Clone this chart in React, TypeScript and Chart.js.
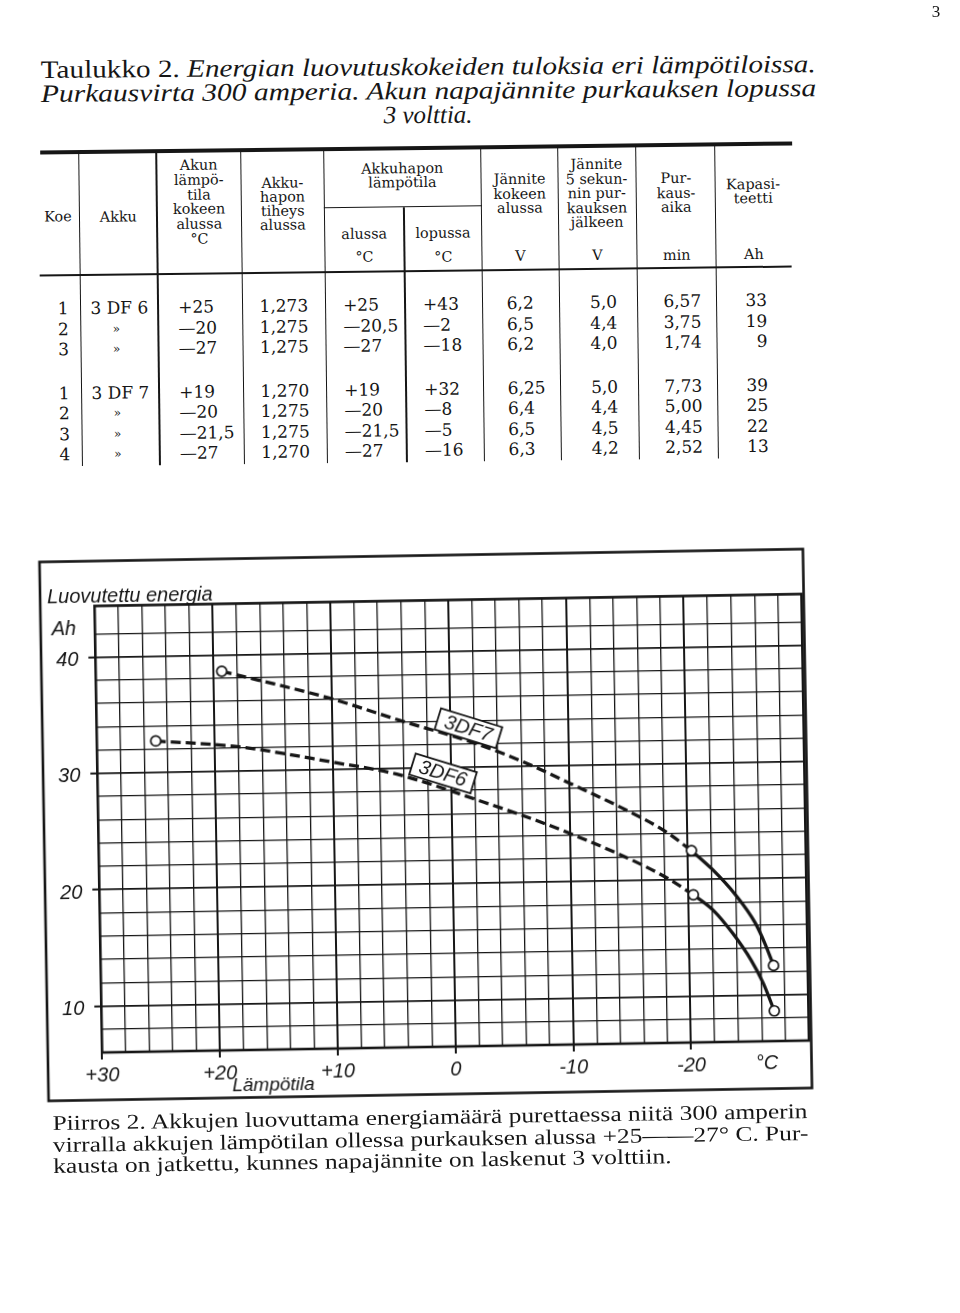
import React, { useEffect, useLayoutEffect, useRef } from 'react';
import { Chart, registerables } from 'chart.js';

Chart.register(...registerables);

/* ---------------- chart data (read from "Piirros 2") ---------------- */
const tempTickValues = [30, 20, 10, 0, -10, -20];
const tempTickLabels = ['+30', '+20', '+10', '0', '-10', '-20'];
const ahTickValues = [10, 20, 30, 40];
const ahTickLabels = ['10', '20', '30', '40'];

// 3DF7: dashed part, solid part, measured points (circles)
const df7DashedTemp = [19.3, 10.1, 4.5, -2.2, -6.1, -10.2, -14.4, -18.1, -20.3];
const df7DashedAh = [38.6, 36.1, 34.2, 32.0, 30.4, 28.4, 26.3, 24.2, 22.5];
const df7SolidTemp = [-20.3, -22.0, -24.0, -25.6, -26.4, -27.1];
const df7SolidAh = [22.5, 20.9, 18.6, 16.2, 14.4, 12.5];
const df7PointTemp = [19.3, -20.3, -27.1];
const df7PointAh = [38.6, 22.5, 12.5];

// 3DF6
const df6DashedTemp = [25.0, 18.1, 9.9, 4.6, -2.1, -9.9, -18.0, -20.4];
const df6DashedAh = [32.7, 32.1, 30.6, 29.5, 27.2, 24.2, 20.3, 18.7];
const df6SolidTemp = [-20.4, -22.1, -23.7, -25.2, -26.2, -27.1];
const df6SolidAh = [18.7, 17.3, 15.3, 13.0, 11.0, 8.6];
const df6PointTemp = [25.0, -20.4, -27.1];
const df6PointAh = [32.7, 18.7, 8.6];

// curve tags
const tagNames = ['3DF7', '3DF6'];
const tagTemp = [-1.55, 0.67];
const tagAh = [33.34, 29.5];

const yAxisTitle = 'Luovutettu energia';
const yAxisUnit = 'Ah';
const xAxisTitle = 'Lämpötila';
const xAxisUnit = '°C';
const xUnitTemp = -26.4;
const xTitleTemp = 15.5;

/* ---------------- table data (Taulukko 2) ---------------- */
const koe = ['1', '2', '3', '1', '2', '3', '4'];
const akku = ['3 DF 6', '»', '»', '3 DF 7', '»', '»', '»'];
const akunLampotila = ['+25', '—20', '—27', '+19', '—20', '—21,5', '—27'];
const tiheys = ['1,273', '1,275', '1,275', '1,270', '1,275', '1,275', '1,270'];
const hapAlussa = ['+25', '—20,5', '—27', '+19', '—20', '—21,5', '—27'];
const hapLopussa = ['+43', '—2', '—18', '+32', '—8', '—5', '—16'];
const janniteAlussa = ['6,2', '6,5', '6,2', '6,25', '6,4', '6,5', '6,3'];
const jannite5s = ['5,0', '4,4', '4,0', '5,0', '4,4', '4,5', '4,2'];
const purkausaika = ['6,57', '3,75', '1,74', '7,73', '5,00', '4,45', '2,52'];
const kapasiteetti = ['33', '19', '9', '39', '25', '22', '13'];

const INK = '#161616';
const SERIF = '"Liberation Serif", "Times New Roman", serif';
const TSERIF = '"DejaVu Serif", serif';
const SANS = '"Liberation Sans", Arial, sans-serif';

/* ---------------- helpers ---------------- */
function Txt({ x, y, children, align = 'center', size = 14, family = TSERIF, italic = false, h = 20 }: any) {
  const w = 300;
  const left = align === 'center' ? x - w / 2 : align === 'right' ? x - w : x;
  return (
    <div
      style={{
        position: 'absolute', left, top: y - h / 2, width: w, height: h, lineHeight: `${h}px`,
        textAlign: align, fontSize: size, fontFamily: family, fontStyle: italic ? 'italic' : 'normal',
        whiteSpace: 'nowrap', color: INK,
      }}
    >
      {children}
    </div>
  );
}

function Lines({ x, y0, lh, lines, size = 14 }: any) {
  return (
    <>
      {lines.map((t: string, i: number) => (
        <Txt key={i} x={x} y={y0 + i * lh} size={size}>{t}</Txt>
      ))}
    </>
  );
}

function HLine({ x1, x2, y, t }: any) {
  return <div style={{ position: 'absolute', left: x1, top: y - t / 2, width: x2 - x1, height: t, background: INK }} />;
}
function VLine({ x, y1, y2, t }: any) {
  return <div style={{ position: 'absolute', left: x - t / 2, top: y1, width: t, height: y2 - y1, background: INK }} />;
}

function FitLine({ left, baseline, width, size, children, italic = false }: any) {
  const ref = useRef<HTMLSpanElement>(null);
  useLayoutEffect(() => {
    const el = ref.current;
    if (!el) return;
    const fit = () => {
      const w = el.offsetWidth;
      if (w) el.style.transform = `scaleX(${width / w})`;
    };
    fit();
    const fonts = (document as any).fonts;
    if (fonts && fonts.ready) fonts.ready.then(fit);
  }, [width]);
  return (
    <div
      style={{
        position: 'absolute', left, top: baseline - 0.8375 * size, height: size, lineHeight: `${size}px`,
        fontSize: size, fontFamily: SERIF, whiteSpace: 'nowrap', color: INK, fontStyle: italic ? 'italic' : 'normal',
      }}
    >
      <span ref={ref} style={{ display: 'inline-block', transformOrigin: '0 50%' }}>{children}</span>
    </div>
  );
}

function Rotated({ deg, ox, oy, children }: any) {
  return (
    <div
      style={{
        position: 'absolute', left: 0, top: 0, width: 960, height: 1313,
        transform: `rotate(${deg}deg)`, transformOrigin: `${ox}px ${oy}px`,
      }}
    >
      {children}
    </div>
  );
}

/* ---------------- title ---------------- */
function TitleBlock() {
  const size = 25;
  return (
    <Rotated deg={-0.43} ox={428} oy={98}>
      <FitLine left={41} baseline={75} width={775} size={size}>
        <span>Taulukko 2. </span>
        <i>Energian luovutuskokeiden tuloksia eri lämpötiloissa.</i>
      </FitLine>
      <FitLine left={41} baseline={99} width={775} size={size} italic>
        Purkausvirta 300 amperia. Akun napajännite purkauksen lopussa
      </FitLine>
      <div
        style={{
          position: 'absolute', left: 278, width: 300, top: 123 - 0.8375 * size, height: size,
          lineHeight: `${size}px`, fontSize: size, fontFamily: SERIF, fontStyle: 'italic',
          textAlign: 'center', color: INK, whiteSpace: 'nowrap',
        }}
      >
        3 volttia.
      </div>
    </Rotated>
  );
}

/* ---------------- table ---------------- */
function TableBlock() {
  const cols = [80.5, 158, 242.3, 325.2, 482.5, 559.6, 637.8, 716.8];
  const rowY = [304, 324.5, 345, 389, 409.3, 429.6, 449.9];
  const body = 17;
  const hs = 14.4;
  return (
    <Rotated deg={-0.69} ox={420} oy={300}>
      <HLine x1={42} x2={794} y={148} t={3.5} />
      <HLine x1={40} x2={792} y={271} t={2} />
      <HLine x1={325} x2={482.5} y={206.5} t={1.4} />
      {cols.map((x, i) => (
        <VLine key={i} x={x} y1={148} y2={462} t={1.3} />
      ))}
      <VLine x={405} y1={206.5} y2={462} t={1.3} />

      <Txt x={59} y={212} size={hs}>Koe</Txt>
      <Txt x={119.3} y={213} size={hs}>Akku</Txt>
      <Lines x={200.2} y0={162} lh={14.8} size={hs} lines={['Akun', 'lämpö-', 'tila', 'kokeen', 'alussa', '°C']} />
      <Lines x={283.8} y0={181} lh={14} size={hs} lines={['Akku-', 'hapon', 'tiheys', 'alussa']} />
      <Lines x={403.8} y0={167.5} lh={14} size={hs} lines={['Akkuhapon', 'lämpötila']} />
      <Txt x={365} y={232.6} size={hs}>alussa</Txt>
      <Txt x={365} y={256} size={hs}>°C</Txt>
      <Txt x={443.8} y={233.3} size={hs}>lopussa</Txt>
      <Txt x={443.8} y={256.5} size={hs}>°C</Txt>
      <Lines x={521} y0={180} lh={14.5} size={hs} lines={['Jännite', 'kokeen', 'alussa']} />
      <Lines x={598} y0={166} lh={14.6} size={hs} lines={['Jännite', '5 sekun-', 'nin pur-', 'kauksen', 'jälkeen']} />
      <Lines x={677.3} y0={181} lh={14.5} size={hs} lines={['Pur-', 'kaus-', 'aika']} />
      <Lines x={754.4} y0={187.5} lh={14.5} size={hs} lines={['Kapasi-', 'teetti']} />
      <Txt x={521} y={257} size={hs}>V</Txt>
      <Txt x={598} y={257} size={hs}>V</Txt>
      <Txt x={677.3} y={257.5} size={hs}>min</Txt>
      <Txt x={754.4} y={258} size={hs}>Ah</Txt>

      {rowY.map((y, i) => (
        <React.Fragment key={i}>
          <Txt x={63} y={y} size={body}>{koe[i]}</Txt>
          {akku[i] === '»' ? (
            <Txt x={116} y={y} size={12}>{akku[i]}</Txt>
          ) : (
            <Txt x={119.3} y={y} size={body}>{akku[i]}</Txt>
          )}
          <Txt x={178} y={y} size={body} align="left">{akunLampotila[i]}</Txt>
          <Txt x={283.8} y={y} size={body}>{tiheys[i]}</Txt>
          <Txt x={343} y={y} size={body} align="left">{hapAlussa[i]}</Txt>
          <Txt x={423} y={y} size={body} align="left">{hapLopussa[i]}</Txt>
          <Txt x={506.7} y={y} size={body} align="left">{janniteAlussa[i]}</Txt>
          <Txt x={590} y={y} size={body} align="left">{jannite5s[i]}</Txt>
          <Txt x={663.3} y={y} size={body} align="left">{purkausaika[i]}</Txt>
          <Txt x={767} y={y} size={body} align="right">{kapasiteetti[i]}</Txt>
        </React.Fragment>
      ))}
    </Rotated>
  );
}

/* ---------------- chart ---------------- */
function ChartBlock() {
  const ref = useRef<HTMLCanvasElement>(null);
  useEffect(() => {
    const canvas = ref.current;
    if (!canvas) return;
    const pts = (xs: number[], ys: number[]) => xs.map((x, i) => ({ x, y: ys[i] }));
    const curve = (xs: number[], ys: number[], dashed: boolean) => ({
      data: pts(xs, ys),
      borderColor: INK,
      borderWidth: 3.3,
      borderDash: dashed ? [10, 5] : [],
      pointRadius: 0,
      cubicInterpolationMode: 'monotone',
      fill: false,
      order: 2,
    });
    const marks = (xs: number[], ys: number[]) => ({
      data: pts(xs, ys),
      showLine: false,
      pointRadius: 5,
      pointBackgroundColor: '#ffffff',
      pointBorderColor: INK,
      pointBorderWidth: 1.7,
      order: 1,
    });
    const isLabelled = (v: number) => tempTickValues.includes(v);
    const decor = {
      id: 'decor',
      beforeDraw(chart: any) {
        const c = chart.ctx;
        c.save();
        c.fillStyle = '#ffffff';
        c.fillRect(0, 0, chart.width, chart.height);
        c.restore();
      },
      beforeDatasetsDraw(chart: any) {
        const c = chart.ctx;
        const a = chart.chartArea;
        c.save();
        c.strokeStyle = INK;
        c.lineWidth = 2.6;
        c.strokeRect(a.left, a.top, a.right - a.left, a.bottom - a.top);
        c.strokeRect(4, 5.5, 763.5, 539);
        c.fillStyle = INK;
        c.font = `italic 20px ${SANS}`;
        c.textAlign = 'left';
        c.textBaseline = 'middle';
        c.fillText(yAxisTitle, 11, 41);
        c.fillText(yAxisUnit, 15, 73);
        const xs = chart.scales.x;
        c.textAlign = 'center';
        c.fillText(xAxisUnit, xs.getPixelForValue(xUnitTemp), 519);
        c.font = `italic 19px ${SANS}`;
        c.fillText(xAxisTitle, xs.getPixelForValue(xTitleTemp), 533);
        c.restore();
      },
      afterDatasetsDraw(chart: any) {
        const c = chart.ctx;
        const xs = chart.scales.x;
        const ys = chart.scales.y;
        tagNames.forEach((name, i) => {
          const px = xs.getPixelForValue(tagTemp[i]);
          const py = ys.getPixelForValue(tagAh[i]);
          c.save();
          c.translate(px, py);
          c.rotate((18 * Math.PI) / 180);
          c.fillStyle = '#ffffff';
          c.fillRect(-32, -11, 64, 22);
          c.strokeStyle = INK;
          c.lineWidth = 1.8;
          c.strokeRect(-32, -11, 64, 22);
          c.fillStyle = INK;
          c.font = `italic 20px ${SANS}`;
          c.textAlign = 'center';
          c.textBaseline = 'middle';
          c.fillText(name, 0, 1);
          c.restore();
        });
      },
    };
    const tickFont = { family: SANS, size: 20, style: 'italic' as const };
    const chart = new Chart(canvas, {
      type: 'line',
      data: {
        datasets: [
          marks(df7PointTemp, df7PointAh),
          marks(df6PointTemp, df6PointAh),
          curve(df7DashedTemp, df7DashedAh, true),
          curve(df7SolidTemp, df7SolidAh, false),
          curve(df6DashedTemp, df6DashedAh, true),
          curve(df6SolidTemp, df6SolidAh, false),
        ] as any,
      },
      options: {
        animation: false,
        responsive: false,
        maintainAspectRatio: false,
        layout: { padding: { left: 0, right: 5.7, top: 50.4, bottom: 13 } },
        plugins: { legend: { display: false }, tooltip: { enabled: false } },
        scales: {
          x: {
            type: 'linear',
            reverse: true,
            min: -30,
            max: 30,
            ticks: {
              stepSize: 2,
              autoSkip: false,
              maxRotation: 0,
              minRotation: 0,
              padding: 4,
              color: INK,
              font: tickFont,
              callback: (v: any) => {
                const i = tempTickValues.indexOf(Number(v));
                return i >= 0 ? tempTickLabels[i] : '';
              },
            },
            grid: {
              color: INK,
              lineWidth: (ctx: any) => (ctx.tick && ctx.tick.value % 10 === 0 ? 2 : 1.3),
              tickLength: 7,
              tickWidth: 2,
              tickColor: (ctx: any) => (ctx.tick && isLabelled(ctx.tick.value) ? INK : 'rgba(0,0,0,0)'),
            },
            border: { display: false },
            afterFit: (s: any) => {
              s.height = 40;
            },
          },
          y: {
            type: 'linear',
            min: 6,
            max: 44.4,
            ticks: {
              stepSize: 2,
              autoSkip: false,
              padding: 10,
              labelOffset: 3,
              color: INK,
              font: tickFont,
              callback: (v: any) => {
                const i = ahTickValues.indexOf(Number(v));
                return i >= 0 ? ahTickLabels[i] : '';
              },
            },
            grid: {
              color: INK,
              lineWidth: (ctx: any) => (ctx.tick && ctx.tick.value % 10 === 0 ? 1.8 : 1.3),
              tickLength: 7,
              tickWidth: 2,
              tickColor: (ctx: any) => (ctx.tick && ahTickValues.includes(ctx.tick.value) ? INK : 'rgba(0,0,0,0)'),
            },
            border: { display: false },
            afterFit: (s: any) => {
              s.width = 58.3;
            },
          },
        },
      } as any,
      plugins: [decor],
    });
    return () => chart.destroy();
  }, []);
  return (
    <Rotated deg={-0.97} ox={425} oy={825}>
      <canvas
        ref={ref}
        width={772}
        height={550}
        style={{ position: 'absolute', left: 40, top: 550, width: 772, height: 550 }}
      />
    </Rotated>
  );
}

/* ---------------- caption ---------------- */
function CaptionBlock() {
  const size = 21;
  return (
    <Rotated deg={-0.92} ox={430} oy={1150}>
      <FitLine left={53} baseline={1125} width={755} size={size}>
        Piirros 2. Akkujen luovuttama energiamäärä purettaessa niitä 300 amperin
      </FitLine>
      <FitLine left={53} baseline={1146.5} width={755} size={size}>
        virralla akkujen lämpötilan ollessa purkauksen alussa +25——27° C. Pur-
      </FitLine>
      <FitLine left={53} baseline={1168} width={619} size={size}>
        kausta on jatkettu, kunnes napajännite on laskenut 3 volttiin.
      </FitLine>
    </Rotated>
  );
}

export default function App() {
  return (
    <div
      style={{
        position: 'absolute', left: 0, top: 0, width: 960, height: 1313, background: '#ffffff',
        overflow: 'hidden', color: INK,
      }}
    >
      <TitleBlock />
      <TableBlock />
      <ChartBlock />
      <CaptionBlock />
      <div
        style={{
          position: 'absolute', left: 926, top: 2, width: 20, height: 20, lineHeight: '20px',
          fontSize: 17, fontFamily: SERIF, textAlign: 'center', color: INK,
        }}
      >
        3
      </div>
    </div>
  );
}
